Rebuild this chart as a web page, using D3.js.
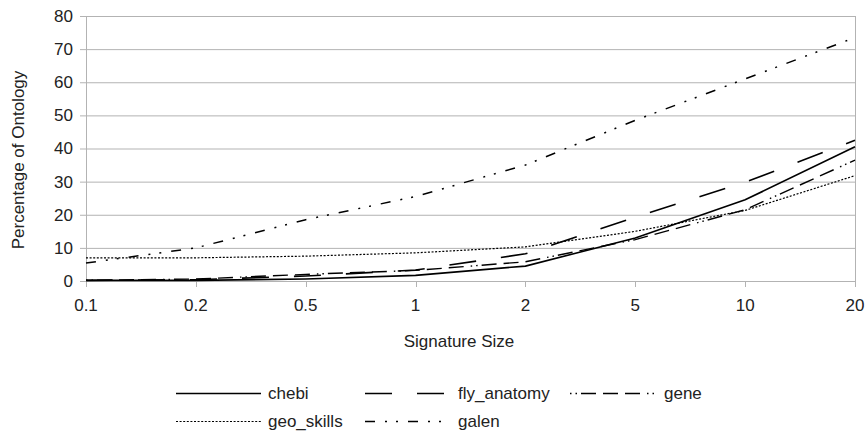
<!DOCTYPE html>
<html>
<head>
<meta charset="utf-8">
<script src="https://cdn.jsdelivr.net/npm/d3@7"></script>
<style>
  html, body { margin: 0; padding: 0; background: #fff; }
  svg { display: block; }
  text { font-family: "Liberation Sans", Arial, sans-serif; fill: #222; }
</style>
</head>
<body>
<svg id="chart" width="866" height="432"></svg>
<script>
const categories = ["0.1", "0.2", "0.5", "1", "2", "5", "10", "20"];
const chebi       = [0.2, 0.2, 0.6, 1.7, 4.5, 13.0, 24.5, 40.5];
const flyAnatomy  = [0.2, 0.4, 1.5, 3.3, 8.2, 19.3, 29.8, 42.5];
const gene        = [0.2, 0.6, 2.0, 3.2, 5.8, 12.5, 21.5, 36.5];
const geoSkills   = [7.0, 7.0, 7.5, 8.5, 10.3, 15.0, 21.3, 31.8];
const galen       = [5.4, 10.0, 18.5, 25.5, 35.0, 48.5, 61.0, 73.5];
const yTicks      = [0, 10, 20, 30, 40, 50, 60, 70, 80];

const seriesNames = ["chebi", "fly_anatomy", "gene", "geo_skills", "galen"];
const seriesValues = [chebi, flyAnatomy, gene, geoSkills, galen];
const seriesDash = ["none", "27,25", "1.5,4,1.5,4,15,7,15,7,15,7", "2,1.6", "10,10,2,9,2,10"];
const seriesWidth = [1.6, 1.6, 1.4, 1.2, 1.5];

const svg = d3.select("#chart");
const mLeft = 86, mRight = 855, mTop = 16, mBottom = 281;
const fs = 17;

const x = d3.scalePoint().domain(categories).range([mLeft, mRight]);
const y = d3.scaleLinear().domain([0, 80]).range([mBottom, mTop]);

const grid = "#b3b3b3";

// horizontal gridlines
svg.append("g").selectAll("line").data(yTicks).join("line")
  .attr("x1", mLeft - 6).attr("x2", mRight)
  .attr("y1", d => y(d) + 0.5).attr("y2", d => y(d) + 0.5)
  .attr("stroke", grid).attr("stroke-width", 1);

// vertical axis lines (left and right frame)
svg.append("line").attr("x1", mLeft + 0.5).attr("x2", mLeft + 0.5)
  .attr("y1", mTop).attr("y2", mBottom + 6).attr("stroke", grid);
svg.append("line").attr("x1", mRight + 0.5).attr("x2", mRight + 0.5)
  .attr("y1", mTop).attr("y2", mBottom + 6).attr("stroke", grid);

// x ticks
svg.append("g").selectAll("line").data(categories).join("line")
  .attr("x1", d => Math.round(x(d)) + 0.5).attr("x2", d => Math.round(x(d)) + 0.5)
  .attr("y1", mBottom).attr("y2", mBottom + 6)
  .attr("stroke", grid);

// y tick labels
svg.append("g").selectAll("text").data(yTicks).join("text")
  .attr("x", 73).attr("y", d => y(d))
  .attr("dy", "0.35em").attr("text-anchor", "end")
  .attr("font-size", fs).text(d => d);

// x tick labels
svg.append("g").selectAll("text").data(categories).join("text")
  .attr("x", d => x(d)).attr("y", 305)
  .attr("dy", "0.35em").attr("text-anchor", "middle")
  .attr("font-size", fs).text(d => d);

// axis titles
svg.append("text").attr("x", 459).attr("y", 341).attr("dy", "0.35em")
  .attr("text-anchor", "middle").attr("font-size", fs).text("Signature Size");
svg.append("text").attr("transform", "translate(18,160) rotate(-90)")
  .attr("dy", "0.35em").attr("text-anchor", "middle").attr("font-size", fs)
  .text("Percentage of Ontology");

// series lines
const line = d3.line().x((d, i) => x(categories[i])).y(d => y(d));
seriesValues.forEach((vals, k) => {
  svg.append("path").datum(vals)
    .attr("d", line)
    .attr("fill", "none").attr("stroke", "#000")
    .attr("stroke-width", seriesWidth[k])
    .attr("stroke-dasharray", seriesDash[k]);
});

// legend
const legendPos = [
  {sx: 176, tx: 268, y: 393},
  {sx: 365, tx: 458, y: 393},
  {sx: 570, tx: 664, y: 393},
  {sx: 176, tx: 268, y: 421},
  {sx: 365, tx: 458, y: 421}
];
const lg = svg.append("g");
seriesNames.forEach((name, k) => {
  const p = legendPos[k];
  lg.append("line").attr("x1", p.sx).attr("x2", p.tx - 7)
    .attr("y1", p.y + 0.5).attr("y2", p.y + 0.5)
    .attr("stroke", "#000").attr("stroke-width", seriesWidth[k])
    .attr("stroke-dasharray", seriesDash[k]);
  lg.append("text").attr("x", p.tx).attr("y", p.y).attr("dy", "0.35em")
    .attr("font-size", fs).text(name);
});
</script>
</body>
</html>
